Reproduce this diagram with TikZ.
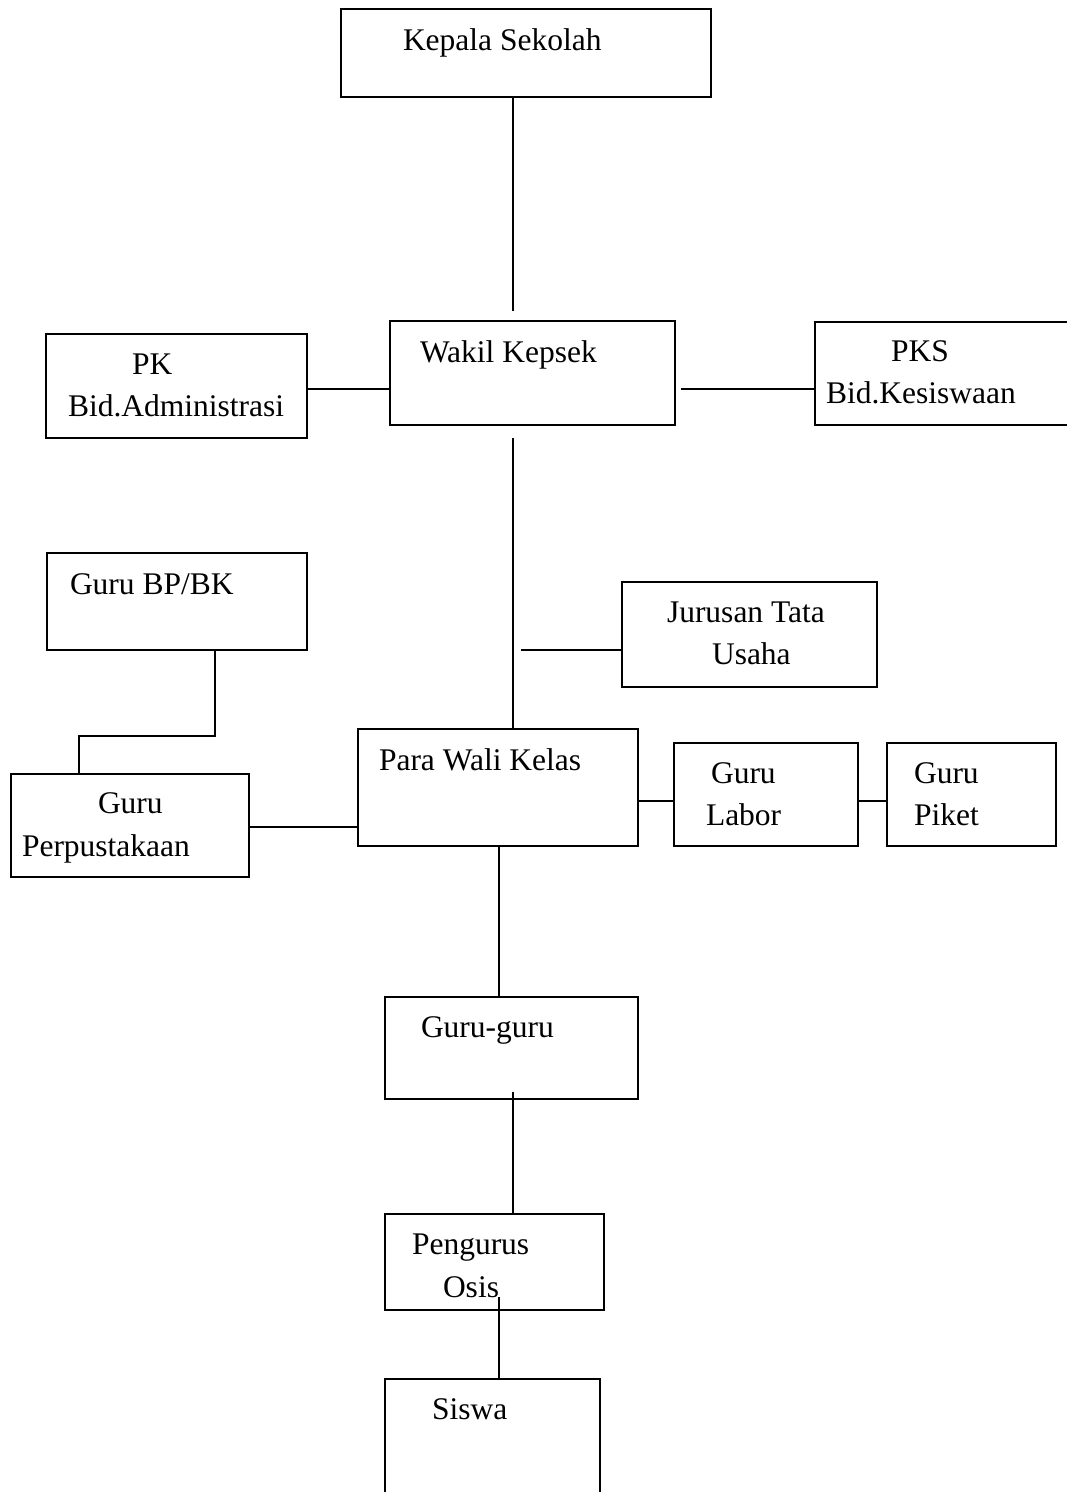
\documentclass[tikz,border=0pt]{standalone}
\usepackage{fontspec}
\setmainfont{Liberation Serif}
\usetikzlibrary{fit,calc}
\begin{document}
\begin{tikzpicture}[x=1pt,y=-1pt,
  box/.style={draw=black,line width=1.9pt,inner sep=0pt,outer sep=0pt,rectangle},
  lbl/.style={anchor=base west,inner sep=0pt,outer sep=0pt,font=\fontsize{31.5}{38}\selectfont},
  conn/.style={draw=black,line width=1.6pt}]
\clip (0,0) rectangle (1067,1492);
\fill[white] (0,0) rectangle (1067,1492);
% boxes
\node[box,fit={(341,9) (711,97)}] (kepala) {};
\node[box,fit={(390,321) (675,425)}] (wakil) {};
\node[box,fit={(46,334) (307,438)}] (pk) {};
\node[box,fit={(815,322) (1090,425)}] (pks) {};
\node[box,fit={(47,553) (307,650)}] (bpbk) {};
\node[box,fit={(622,582) (877,687)}] (jur) {};
\node[box,fit={(358,729) (638,846)}] (wali) {};
\node[box,fit={(11,774) (249,877)}] (perp) {};
\node[box,fit={(674,743) (858,846)}] (labor) {};
\node[box,fit={(887,743) (1056,846)}] (piket) {};
\node[box,fit={(385,997) (638,1099)}] (gg) {};
\node[box,fit={(385,1214) (604,1310)}] (peng) {};
\node[box,fit={(385,1379) (600,1510)}] (siswa) {};
% texts
\node[lbl] (t1) at (403,50) {Kepala Sekolah};
\node[lbl] (t2) at (420,362) {Wakil Kepsek};
\node[lbl] (t3) at (132,374) {PK};
\node[lbl] (t4) at (68,416) {Bid.Administrasi};
\node[lbl] (t5) at (891,361) {PKS};
\node[lbl] (t6) at (826,403) {Bid.Kesiswaan};
\node[lbl] (t7) at (70,594) {Guru BP/BK};
\node[lbl] (t8) at (667,622) {Jurusan Tata};
\node[lbl] (t9) at (712,664) {Usaha};
\node[lbl] (t10) at (379,770) {Para Wali Kelas};
\node[lbl] (t11) at (98,813) {Guru};
\node[lbl] (t12) at (22,856) {Perpustakaan};
\node[lbl] (t13) at (711,783) {Guru};
\node[lbl] (t14) at (706,825) {Labor};
\node[lbl] (t15) at (914,783) {Guru};
\node[lbl] (t16) at (914,825) {Piket};
\node[lbl] (t17) at (421,1037) {Guru-guru};
\node[lbl] (t18) at (412,1254) {Pengurus};
\node[lbl] (t19) at (443,1297) {Osis};
\node[lbl] (t20) at (432,1419) {Siswa};
% helper coordinates
\coordinate (cx1) at (513,0);
\coordinate (cx2) at (499,0);
\coordinate (cx3) at (215,0);
\coordinate (cy1) at (0,389);
\coordinate (cy2) at (0,827);
\coordinate (cy3) at (0,801);
\coordinate (jx) at (521,650);
\coordinate (bend) at (79,736);
% connectors
\draw[conn] (kepala.south -| cx1) -- ($(wakil.north -| cx1)+(0,-10)$);
\draw[conn] (wakil.west |- cy1) -- (pk.east |- cy1);
\draw[conn] ($(wakil.east |- cy1)+(6,0)$) -- (pks.west |- cy1);
\draw[conn] ($(wakil.south -| cx1)+(0,13)$) -- (wali.north -| cx1);
\draw[conn] (jur.west |- jx) -- (jx);
\draw[conn] (bpbk.south -| cx3) |- (bend) -- (perp.north -| bend);
\draw[conn] (wali.west |- cy2) -- (perp.east |- cy2);
\draw[conn] (wali.east |- cy3) -- (labor.west |- cy3);
\draw[conn] (labor.east |- cy3) -- (piket.west |- cy3);
\draw[conn] (wali.south -| cx2) -- (gg.north -| cx2);
\draw[conn] ($(gg.south -| cx1)+(0,-7)$) -- (peng.north -| cx1);
\draw[conn] ($(peng.south -| cx2)+(0,-13)$) -- (siswa.north -| cx2);
\end{tikzpicture}
\end{document}
